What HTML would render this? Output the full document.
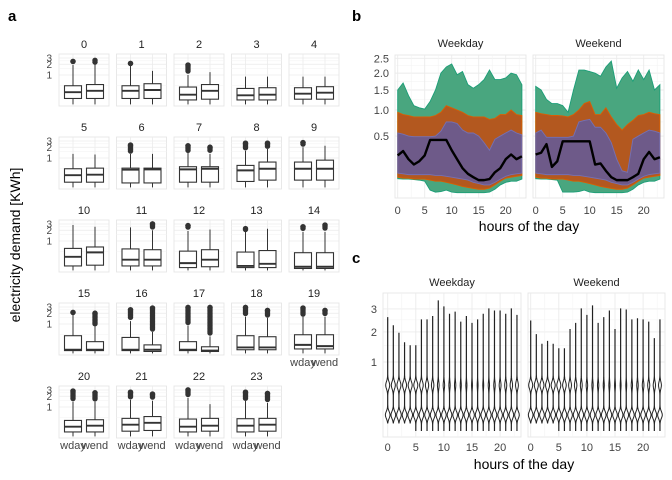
<!DOCTYPE html>
<html><head><meta charset="utf-8"><style>
html,body{margin:0;padding:0;background:#fff}
svg{display:block;font-family:"Liberation Sans",sans-serif}
</style></head><body>
<svg id="c" width="672" height="480" viewBox="0 0 672 480"></svg>
<script>
// ---------- Panel a data (boxplots per hour) ----------
const hours = [0,1,2,3,4,5,6,7,8,9,10,11,12,13,14,15,16,17,18,19,20,21,22,23];
const wdayQ1  = [.22,.22,.20,.20,.21,.21,.20,.21,.22,.24,.20,.20,.18,.18,.17,.18,.18,.18,.19,.20,.20,.21,.20,.20];
const wdayMed = [.33,.36,.28,.27,.30,.33,.47,.48,.45,.50,.36,.30,.24,.20,.19,.19,.19,.19,.22,.26,.28,.32,.28,.30];
const wdayQ3  = [.50,.50,.46,.42,.44,.50,.52,.57,.62,.77,.62,.60,.52,.49,.47,.47,.42,.32,.47,.50,.42,.48,.46,.47];
const wdayHi  = [1.9,1.8,1.0,0.9,0.9,1.3,1.3,1.4,1.6,2.0,2.8,2.4,1.9,1.9,1.8,1.8,1.2,0.9,1.6,1.6,1.4,1.6,1.8,1.5];
const wdayOut = [2.4,2.1,1.9,0,0,0,2.3,2.2,2.6,2.7,0,0,2.7,2.1,2.5,2.1,2.5,2.9,2.9,2.8,2.8,2.6,3.0,2.6];
const wendQ1  = [.22,.22,.21,.20,.21,.21,.20,.21,.24,.24,.21,.20,.19,.18,.17,.18,.17,.17,.19,.20,.20,.22,.21,.21];
const wendMed = [.36,.38,.36,.28,.32,.34,.48,.50,.50,.50,.48,.30,.30,.23,.19,.19,.19,.18,.22,.24,.30,.36,.30,.32];
const wendQ3  = [.54,.57,.54,.44,.47,.52,.52,.57,.77,.87,.68,.57,.57,.54,.47,.32,.26,.23,.44,.50,.44,.54,.48,.48];
const wendHi  = [2.2,1.3,1.2,0.9,0.9,1.25,1.3,1.3,1.8,2.2,2.5,2.0,2.1,2.2,1.8,0.85,0.6,0.45,1.5,1.6,1.4,1.5,1.2,1.3];
const wendOut = [2.3,0,0,0,0,0,0,2.0,2.6,0,0,3.0,0,0,2.8,2.0,2.8,2.9,2.4,2.4,2.5,2.3,0,2.4];
const whiskerLo = [.15,.15,.15,.15,.15,.15,.15,.15,.15,.15,.15,.15,.15,.15,.15,.15,.15,.15,.15,.15,.15,.15,.15,.15];

// ---------- Panel b data (quantile bands) ----------
const bHours = hours;
const wkTop   = [1.5,1.7,1.35,1.1,1.05,1.02,1.2,1.5,2.0,2.2,2.3,1.95,2.05,1.65,1.55,1.65,1.8,2.1,1.8,1.8,1.85,2.0,1.95,1.65];
const wkOrTop = [0.95,0.9,0.88,0.85,0.85,0.85,0.85,0.88,0.95,1.1,1.05,1.0,0.95,0.88,0.85,0.85,0.85,0.8,0.82,0.9,0.9,1.0,0.9,0.88];
const wkPuTop = [0.55,0.53,0.5,0.49,0.49,0.49,0.49,0.5,0.58,0.75,0.75,0.72,0.6,0.55,0.55,0.5,0.4,0.3,0.45,0.5,0.55,0.6,0.55,0.52];
const wkMed   = [0.24,0.29,0.2,0.15,0.18,0.24,0.44,0.44,0.44,0.44,0.3,0.2,0.12,0.08,0.06,0.045,0.045,0.05,0.09,0.12,0.2,0.25,0.2,0.23];
const wkPuBot = [0.085,0.08,0.075,0.075,0.075,0.075,0.075,0.07,0.07,0.065,0.06,0.055,0.05,0.045,0.035,0.03,0.025,0.025,0.035,0.05,0.065,0.075,0.08,0.085];
const wkOrBot = [0.06,0.055,0.055,0.05,0.05,0.05,0.045,0.04,0.04,0.035,0.03,0.025,0.02,0.017,0.014,0.012,0.012,0.015,0.025,0.04,0.055,0.06,0.065,0.07];
const wkBot   = [0.052,0.05,0.05,0.048,0.045,0.04,0.01,0.006,0.007,0.01,0.006,0.005,0.005,0.005,0.005,0.005,0.005,0.006,0.012,0.025,0.035,0.04,0.04,0.05];
const weTop   = [1.6,1.5,1.25,1.15,1.15,1.1,0.95,1.5,2.1,2.1,2.05,2.0,1.9,2.2,2.4,1.55,1.85,2.05,1.75,2.1,1.8,2.1,1.5,1.65];
const weOrTop = [0.95,0.92,0.9,0.88,0.88,0.87,0.85,0.9,1.0,1.15,1.2,0.9,0.9,1.05,0.85,0.7,0.6,0.7,0.78,0.88,0.9,0.95,0.92,0.9];
const wePuTop = [0.55,0.6,0.48,0.48,0.48,0.48,0.48,0.5,0.75,0.78,0.8,0.65,0.65,0.55,0.4,0.2,0.1,0.09,0.45,0.5,0.55,0.6,0.58,0.55];
const weMed   = [0.25,0.27,0.38,0.13,0.18,0.42,0.42,0.42,0.42,0.42,0.42,0.15,0.16,0.1,0.06,0.045,0.045,0.045,0.06,0.08,0.2,0.28,0.2,0.22];
const wePuBot = [0.085,0.08,0.075,0.075,0.075,0.075,0.075,0.07,0.07,0.065,0.06,0.055,0.05,0.045,0.035,0.03,0.025,0.025,0.035,0.05,0.065,0.075,0.08,0.085];
const weOrBot = [0.06,0.055,0.055,0.05,0.05,0.05,0.045,0.04,0.04,0.035,0.03,0.025,0.02,0.017,0.014,0.012,0.012,0.015,0.025,0.04,0.055,0.06,0.065,0.07];
const weBot   = [0.052,0.05,0.05,0.048,0.045,0.006,0.006,0.006,0.007,0.01,0.006,0.005,0.005,0.005,0.005,0.005,0.005,0.006,0.012,0.025,0.035,0.04,0.04,0.05];
const bYTicks = [0.5,1.0,1.5,2.0,2.5];
const bYLabels = ["0.5","1.0","1.5","2.0","2.5"];
const xTicks = [0,5,10,15,20];

// ---------- Panel c data (violins) ----------
const wkVMax = [2.6,2.25,1.95,1.6,1.5,1.5,2.5,2.5,2.65,3.4,3.1,2.75,2.85,2.4,2.65,2.35,2.5,2.75,3.0,2.9,2.9,2.75,3.0,2.7];
const weVMax = [2.45,1.9,1.55,1.65,1.55,1.4,1.4,2.1,2.35,3.0,2.7,3.15,2.35,2.6,2.9,2.1,3.0,2.95,2.5,2.55,2.5,2.4,1.75,2.5];
const wkVMin = [0.025,0.025,0.025,0.025,0.025,0.003,0.003,0.003,0.003,0.003,0.003,0.003,0.003,0.003,0.003,0.003,0.003,0.003,0.003,0.003,0.003,0.003,0.003,0.003];
const weVMin = [0.025,0.025,0.025,0.025,0.025,0.003,0.003,0.003,0.003,0.003,0.003,0.003,0.003,0.003,0.003,0.003,0.003,0.003,0.003,0.003,0.003,0.003,0.003,0.003];
const wkUpper = [1,1,1,1,1,1,0.9,0.8,0.6,0.4,0.35,0.3,0.3,0.25,0.25,0.2,0.2,0.2,0.3,0.35,0.45,0.5,0.6,0.7];
const weUpper = [1,1,1,1,1,1,0.9,0.7,0.6,0.45,0.35,0.3,0.3,0.25,0.25,0.2,0.2,0.2,0.3,0.35,0.4,0.5,0.55,0.7];
const cYTicks = [1,2,3];

const NS="http://www.w3.org/2000/svg";
const svg=document.getElementById('c');
function el(tag,attrs,parent){const e=document.createElementNS(NS,tag);for(const k in attrs)e.setAttribute(k,attrs[k]);(parent||svg).appendChild(e);return e;}
function txt(s,x,y,size,anchor,parent,extra){const t=el('text',Object.assign({x:x,y:y,'font-size':size,'text-anchor':anchor||'middle',fill:'#222'},extra||{}),parent);t.textContent=s;return t;}

let t;
t=txt('a',8,21,15,'start',svg,{'font-weight':'bold',fill:'#000'});


t=txt('b',352,21,15,'start',svg,{'font-weight':'bold',fill:'#000'});


t=txt('c',352,263,15,'start',svg,{'font-weight':'bold',fill:'#000'});


t=txt('electricity demand [KWh]',0,0,14,'middle',svg,{transform:'translate(20,245) rotate(-90)',fill:'#000'});



// ---------- Panel a ----------
const gA=el('g',{});


const rowTops=[54,137,220,303,386];
function relY(v){return 21-15.5*Math.log(v);}
hours.forEach((h,i)=>{
  const col=i%5,row=Math.floor(i/5);
  const X0=59+col*57.5, T=rowTops[row], W=50, H=52;
  const g=el('g',{},gA);
  
  
  el('rect',{x:X0,y:T,width:W,height:H,fill:'#fff',stroke:'#e3e3e3','stroke-width':0.8},g);
  const yv=v=>T+Math.min(H,Math.max(0,relY(v)));
  [3,2,1].forEach(v=>el('line',{x1:X0,x2:X0+W,y1:yv(v),y2:yv(v),stroke:'#ebebeb','stroke-width':0.8},g));
  [2.5,1.5,0.5].forEach(v=>el('line',{x1:X0,x2:X0+W,y1:yv(v),y2:yv(v),stroke:'#f3f3f3','stroke-width':0.6},g));
  const cx=[X0+14,X0+36];
  cx.forEach(c=>el('line',{x1:c,x2:c,y1:T,y2:T+H,stroke:'#ebebeb','stroke-width':0.8},g));
  const ft=txt(String(h),X0+W/2,T-6,11,'middle',g);
  
  
  if(col===0){
    [[3,'3'],[2,'2'],[1,'1']].forEach(([v,s])=>{const tl=txt(s,52,yv(v)+3.5,10,'end',g,{fill:'#444'});
      
      });
  }
  const sets=[[wdayQ1,wdayMed,wdayQ3,wdayHi,wdayOut],[wendQ1,wendMed,wendQ3,wendHi,wendOut]];
  sets.forEach((s,k)=>{
    const c=cx[k];
    const bg=el('g',{},g);
    
    
    el('line',{x1:c,x2:c,y1:yv(s[3][i]),y2:yv(s[2][i]),stroke:'#333','stroke-width':1},bg);
    el('line',{x1:c,x2:c,y1:yv(s[0][i]),y2:yv(whiskerLo[i]),stroke:'#333','stroke-width':1},bg);
    el('rect',{x:c-8.5,y:yv(s[2][i]),width:17,height:yv(s[0][i])-yv(s[2][i]),fill:'#fff',stroke:'#333','stroke-width':1.1},bg);
    el('line',{x1:c-8.5,x2:c+8.5,y1:yv(s[1][i]),y2:yv(s[1][i]),stroke:'#333','stroke-width':1.9},bg);
    if(s[4][i]>0){
      const y1=yv(s[4][i]), y2=yv(s[3][i]);
      const start=Math.min(y1,y2-2.5);
      for(let y=start;y<=y2-2.5;y+=1.5) el('circle',{cx:c,cy:y,r:2.7,fill:'#333'},bg);
      el('circle',{cx:c,cy:y1,r:2.7,fill:'#333'},bg);
    }
  });
  if(row===4||h===19){
    const lb=T+H+11;
    let a=txt('wday',cx[0],lb,11,'middle',g,{fill:'#444'});
    
    
    a=txt('wend',cx[1],lb,11,'middle',g,{fill:'#444'});
    
    
  }
});

// ---------- Panel b ----------
const gB=el('g',{});


const yB=v=>199-89*Math.sqrt(v);
const bPanels=[
  {name:'weekday',title:'Weekday',x0:395,x1:526,ox:397.7,sets:[wkTop,wkOrTop,wkPuTop,wkMed,wkPuBot,wkOrBot,wkBot]},
  {name:'weekend',title:'Weekend',x0:533,x1:664,ox:535.7,sets:[weTop,weOrTop,wePuTop,weMed,wePuBot,weOrBot,weBot]}
];
bPanels.forEach((p,pi)=>{
  const g=el('g',{},gB);
  
  
  const xs=h=>p.ox+5.4*h;
  el('rect',{x:p.x0,y:55,width:p.x1-p.x0,height:143,fill:'#fff',stroke:'#e3e3e3','stroke-width':0.8},g);
  [0.75,1.25,1.75,2.25,0.2].forEach(v=>el('line',{x1:p.x0,x2:p.x1,y1:yB(v),y2:yB(v),stroke:'#f3f3f3','stroke-width':0.6},g));
  bYTicks.forEach(v=>el('line',{x1:p.x0,x2:p.x1,y1:yB(v),y2:yB(v),stroke:'#ebebeb','stroke-width':0.9},g));
  [2.5,7.5,12.5,17.5,22.5].forEach(v=>el('line',{x1:xs(v),x2:xs(v),y1:55,y2:198,stroke:'#f3f3f3','stroke-width':0.6},g));
  xTicks.forEach(v=>el('line',{x1:xs(v),x2:xs(v),y1:55,y2:198,stroke:'#ebebeb','stroke-width':0.9},g));
  const s=p.sets;
  function band(top,bot,fill,stroke,nm){
    let d='M'+bHours.map((h,i)=>xs(h)+','+yB(top[i])).join('L');
    d+='L'+bHours.slice().reverse().map(h=>xs(h)+','+yB(bot[h])).join('L')+'Z';
    const e=el('path',{d:d,fill:fill,stroke:stroke,'stroke-width':0.9},g);
    
    
  }
  band(s[0],s[6],'#49a67f','#1b9e77','band-outer');
  band(s[1],s[5],'#b3581f','#d95f02','band-middle');
  band(s[2],s[4],'#6e5a89','#7570b3','band-inner');
  const ml=el('path',{d:'M'+bHours.map((h,i)=>xs(h)+','+yB(s[3][i])).join('L'),fill:'none',stroke:'#000','stroke-width':2.4,'stroke-linejoin':'round'},g);
  
  
  const tt=txt(p.title,(p.x0+p.x1)/2,47,11,'middle',g);
  
  
  xTicks.forEach(v=>{const a=txt(String(v),xs(v),214,11,'middle',g,{fill:'#444'});
    
    });
  if(pi===0) bYTicks.forEach((v,k)=>{const a=txt(bYLabels[k],389,yB(v)+4,11,'end',g,{fill:'#444'});
    
    });
});
t=txt('hours of the day',529,231,14,'middle',gB,{fill:'#000'});



// ---------- Panel c ----------
const gC=el('g',{});


const yC=v=>434.5-72.5*Math.sqrt(v);
const cPanels=[
  {name:'weekday',title:'Weekday',x0:383,x1:521,ox:387.7,mx:wkVMax,mn:wkVMin,up:wkUpper},
  {name:'weekend',title:'Weekend',x0:528,x1:665,ox:530.7,mx:weVMax,mn:weVMin,up:weUpper}
];
cPanels.forEach((p,pi)=>{
  const g=el('g',{},gC);
  
  
  const xs=h=>p.ox+5.62*h;
  el('rect',{x:p.x0,y:293,width:p.x1-p.x0,height:144,fill:'#fff',stroke:'#e3e3e3','stroke-width':0.8},g);
  [2.5,1.5,0.45].forEach(v=>el('line',{x1:p.x0,x2:p.x1,y1:yC(v),y2:yC(v),stroke:'#f3f3f3','stroke-width':0.6},g));
  cYTicks.forEach(v=>el('line',{x1:p.x0,x2:p.x1,y1:yC(v),y2:yC(v),stroke:'#ebebeb','stroke-width':0.9},g));
  [2.5,7.5,12.5,17.5,22.5].forEach(v=>el('line',{x1:xs(v),x2:xs(v),y1:293,y2:437,stroke:'#f3f3f3','stroke-width':0.6},g));
  xTicks.forEach(v=>el('line',{x1:xs(v),x2:xs(v),y1:293,y2:437,stroke:'#ebebeb','stroke-width':0.9},g));
  hours.forEach((h,i)=>{
    const t0=Math.sqrt(p.mn[i]), t1=Math.sqrt(p.mx[i]);
    const N=60, pts=[];
    for(let k=0;k<=N;k++){
      const tt=t0+(t1-t0)*k/N;
      let d=Math.exp(-Math.pow((tt-0.27)/0.065,2))+p.up[i]*0.85*Math.exp(-Math.pow((tt-0.68)/0.07,2))+0.03;
      const edge=Math.min(1,(tt-t0)/0.025);
      pts.push([tt,Math.max(0.1,2.3*d*edge)]);
    }
    const cx=xs(h);
    let d='M'+pts.map(q=>(cx+q[1]).toFixed(2)+','+(434.5-72.5*q[0]).toFixed(2)).join('L');
    d+='L'+pts.slice().reverse().map(q=>(cx-q[1]).toFixed(2)+','+(434.5-72.5*q[0]).toFixed(2)).join('L')+'Z';
    const v=el('path',{d:d,fill:'#fff',stroke:'#222','stroke-width':1.0},g);
    
    
  });
  const tt=txt(p.title,(p.x0+p.x1)/2,286,11,'middle',g);
  
  
  xTicks.forEach(v=>{const a=txt(String(v),xs(v),451,11,'middle',g,{fill:'#444'});
    
    });
  if(pi===0) cYTicks.forEach(v=>{const a=txt(String(v),377,yC(v)+4,11,'end',g,{fill:'#444'});
    
    });
});
t=txt('hours of the day',524,469,14,'middle',gC,{fill:'#000'});


</script>
</body></html>
